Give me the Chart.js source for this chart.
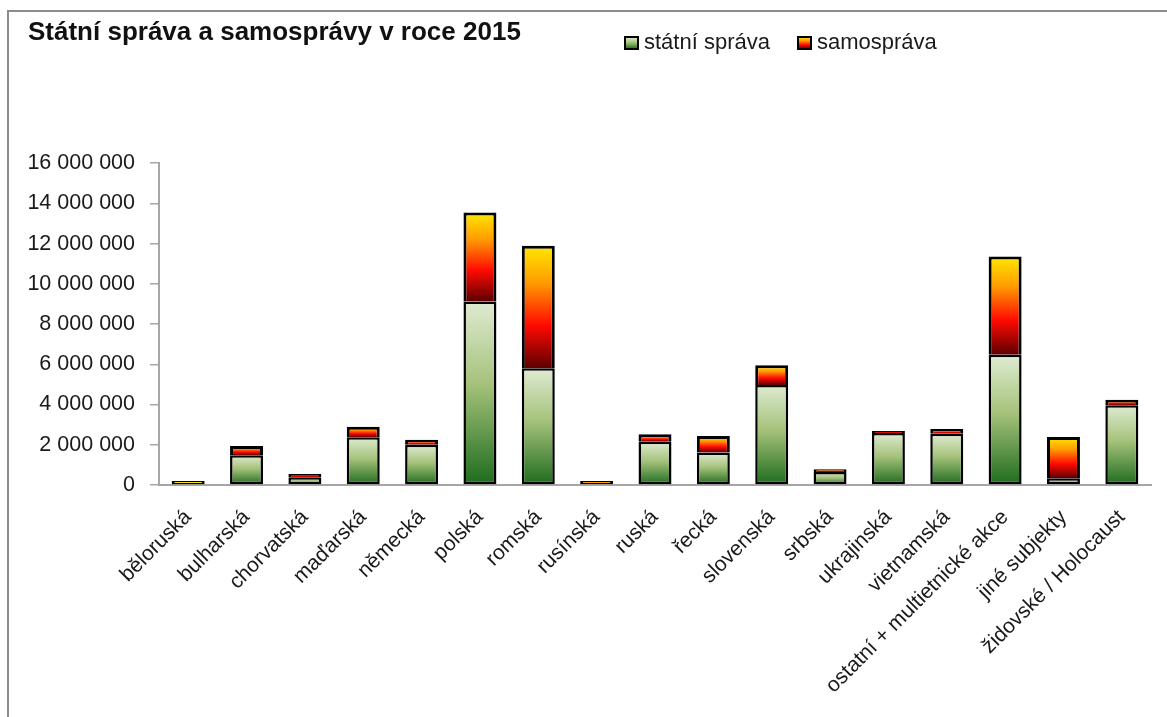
<!DOCTYPE html>
<html>
<head>
<meta charset="utf-8">
<script src="https://cdn.jsdelivr.net/npm/chart.js@4.4.1/dist/chart.umd.min.js"></script>
<style>
  html, body { margin: 0; padding: 0; background: #fff; }
  #wrap { position: relative; width: 1167px; height: 717px; }
  #frame { position: absolute; left: 7px; top: 10px; width: 1170px; height: 720px;
           border-left: 2px solid #8c8c8c; border-top: 2px solid #8c8c8c; pointer-events: none; }
</style>
</head>
<body>
<div id="wrap">
  <canvas id="spravaChart"></canvas>
  <div id="frame"></div>
</div>
<script>
/* data */
const categories = ['běloruská', 'bulharská', 'chorvatská', 'maďarská', 'německá', 'polská', 'romská',
  'rusínská', 'ruská', 'řecká', 'slovenská', 'srbská', 'ukrajinská', 'vietnamská',
  'ostatní + multietnické akce', 'jiné subjekty', 'židovské / Holocaust'];
const statniSprava = [40000, 1480000, 380000, 2370000, 2000000, 9120000, 5800000, 60000, 2150000,
  1610000, 4970000, 650000, 2580000, 2550000, 6470000, 330000, 3970000];
const samosprava = [30000, 460000, 170000, 530000, 250000, 4430000, 6090000, 90000, 370000,
  830000, 980000, 130000, 110000, 240000, 4890000, 2060000, 270000];
const yTicks = [0, 2000000, 4000000, 6000000, 8000000, 10000000, 12000000, 14000000, 16000000];
const seriesNames = ['státní správa', 'samospráva'];

const SANS = "'Liberation Sans', Arial, sans-serif";

function greenStops(g) {
  g.addColorStop(0, '#dfebd2');
  g.addColorStop(0.45, '#a5c27a');
  g.addColorStop(1, '#1d6b1d');
  return g;
}
function orangeStops(g) {
  g.addColorStop(0, '#ffe800');
  g.addColorStop(0.3, '#ff9c00');
  g.addColorStop(0.65, '#ff0a00');
  g.addColorStop(1, '#5c0000');
  return g;
}

function segmentFill(context) {
  const chart = context.chart;
  const ds = context.datasetIndex;
  if (context.type !== 'data' || !chart.chartArea) return ds === 0 ? '#8fb56a' : '#ff6a00';
  const y = chart.scales.y;
  const i = context.dataIndex;
  const base = ds === 0 ? 0 : statniSprava[i];
  const top = base + (ds === 0 ? statniSprava[i] : samosprava[i]);
  const y0 = y.getPixelForValue(base);
  let y1 = y.getPixelForValue(top);
  if (y0 - y1 < 1) y1 = y0 - 1;
  const g = chart.ctx.createLinearGradient(0, y1, 0, y0);
  return ds === 0 ? greenStops(g) : orangeStops(g);
}

function formatNumber(v) {
  return String(v).replace(/\B(?=(\d{3})+(?!\d))/g, ' ');
}

// legend sits on the title line, to the right of it
const sideLegend = {
  id: 'sideLegend',
  afterDraw(chart) {
    const ctx = chart.ctx;
    const items = [
      { x: 625, stops: greenStops },
      { x: 798, stops: orangeStops }
    ];
    ctx.save();
    ctx.font = '22px ' + SANS;
    ctx.textBaseline = 'middle';
    items.forEach((it, k) => {
      const g = ctx.createLinearGradient(0, 37, 0, 49);
      ctx.fillStyle = it.stops(g);
      ctx.fillRect(it.x, 37, 13, 12);
      ctx.lineWidth = 2;
      ctx.strokeStyle = '#000';
      ctx.strokeRect(it.x, 37, 13, 12);
      ctx.fillStyle = '#1a1a1a';
      ctx.fillText(seriesNames[k], it.x + 19, 43);
    });
    ctx.restore();
  }
};

const chartCtx = document.getElementById('spravaChart').getContext('2d');
new Chart(chartCtx, {
  type: 'bar',
  data: {
    labels: categories,
    datasets: [
      {
        label: seriesNames[0],
        data: statniSprava,
        backgroundColor: segmentFill,
        borderColor: '#000',
        borderWidth: 2.5,
        borderSkipped: false,
        minBarLength: 2
      },
      {
        label: seriesNames[1],
        data: samosprava,
        backgroundColor: segmentFill,
        borderColor: '#000',
        borderWidth: 3,
        borderSkipped: 'start',
        minBarLength: 2
      }
    ]
  },
  options: {
    responsive: true,
    maintainAspectRatio: false,
    animation: false,
    layout: { padding: { left: 28, right: 16, top: 0, bottom: 0 } },
    datasets: { bar: { categoryPercentage: 1, barPercentage: 0.565 } },
    scales: {
      x: {
        stacked: true,
        grid: { display: false },
        border: { display: true, color: '#a6a6a6', width: 2 },
        ticks: {
          autoSkip: false,
          minRotation: 45,
          maxRotation: 45,
          padding: 12,
          color: '#1a1a1a',
          font: { family: SANS, size: 21 }
        },
        afterFit(scale) { scale.height = 232; }
      },
      y: {
        stacked: true,
        min: 0,
        max: 16000000,
        afterBuildTicks(scale) { scale.ticks = yTicks.map(v => ({ value: v })); },
        grid: { drawOnChartArea: false, drawTicks: true, tickLength: 9, color: '#a6a6a6', lineWidth: 1.5 },
        border: { display: true, color: '#a6a6a6', width: 2 },
        ticks: {
          padding: 15,
          color: '#1a1a1a',
          font: { family: SANS, size: 21.5 },
          callback: function (value) { return formatNumber(value); }
        },
        afterFit(scale) { scale.width = 131; }
      }
    },
    plugins: {
      legend: { display: false },
      tooltip: { enabled: false },
      title: {
        display: true,
        text: 'Státní správa a samosprávy v roce 2015',
        align: 'start',
        color: '#111',
        font: { family: SANS, size: 26, weight: 'bold', lineHeight: 1.2 },
        padding: { top: 17, bottom: 115 }
      }
    }
  },
  plugins: [sideLegend]
});
</script>
</body>
</html>
